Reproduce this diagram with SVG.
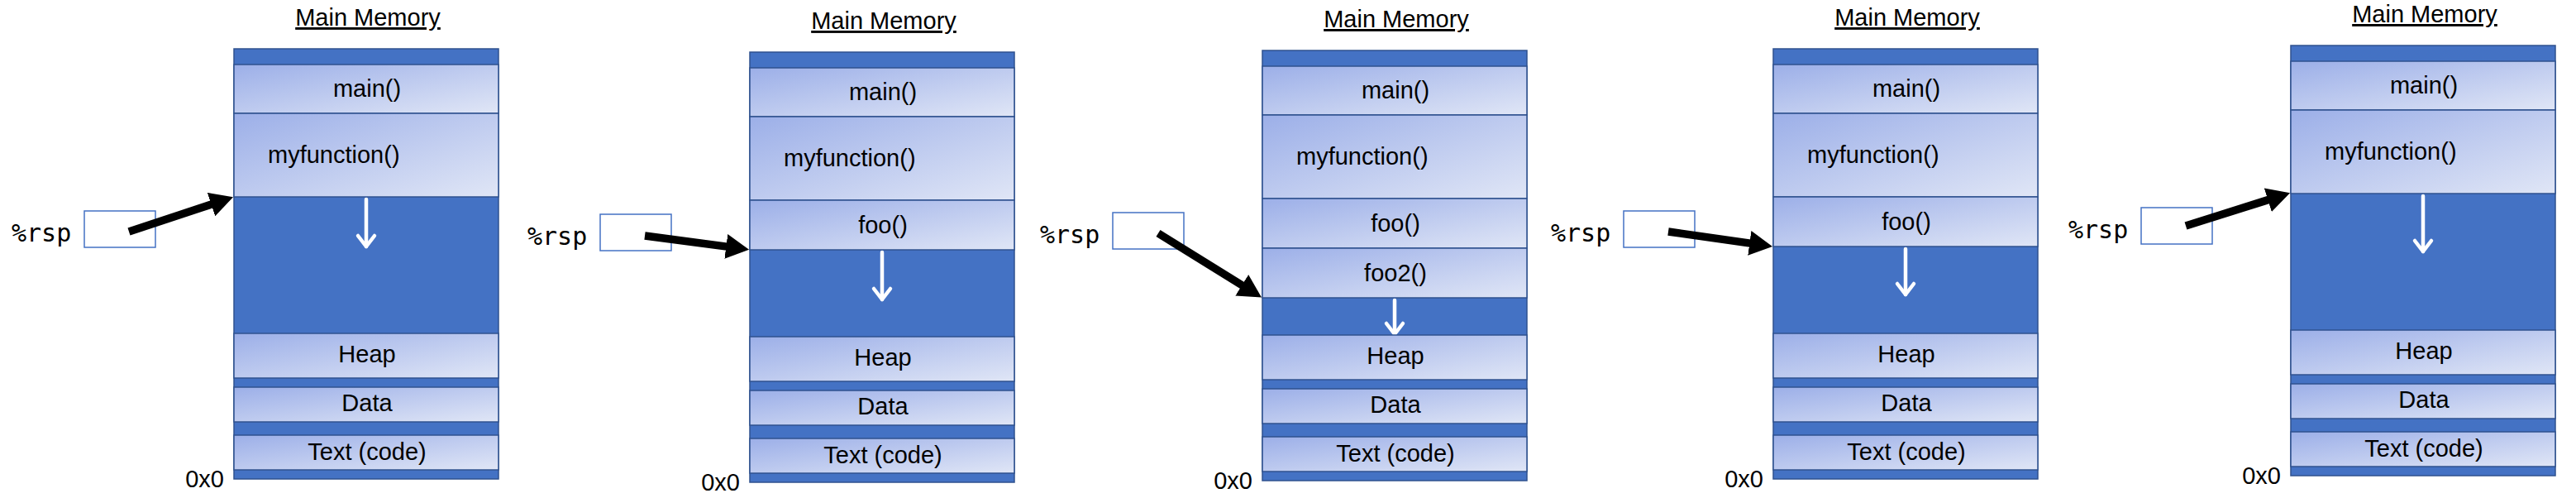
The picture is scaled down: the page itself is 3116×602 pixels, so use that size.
<svg xmlns="http://www.w3.org/2000/svg" width="3116" height="602" viewBox="0 0 3116 602">
<style>
.dk{fill:#4472C4;stroke:#2F528F;stroke-width:1.5}
.lt{fill:url(#g);stroke:#2F528F;stroke-width:1.5}
.t{font-family:"Liberation Sans",Arial,sans-serif;font-size:29px;fill:#000}
.c{text-anchor:middle}
.ti{font-family:"Liberation Sans",Arial,sans-serif;font-size:29px;fill:#000;text-anchor:middle;text-decoration:underline}
.reg{font-family:"DejaVu Sans Mono","Liberation Mono",monospace;font-size:30px;fill:#000}
.rb{fill:#fff;stroke:#4472C4;stroke-width:1.5}
.wa{fill:none;stroke:#fff;stroke-width:4.5;stroke-linecap:round;stroke-linejoin:round}
.ba{fill:none;stroke:#000;stroke-width:9.5}
</style>
<defs>
<linearGradient id="g" x1="0" y1="0" x2="1" y2="1">
<stop offset="0" stop-color="#9CAFE8"/>
<stop offset="1" stop-color="#E0E6F6"/>
</linearGradient>
<marker id="ah" markerUnits="userSpaceOnUse" viewBox="0 0 28 30" markerWidth="28" markerHeight="30" refX="1" refY="15" orient="auto">
<path d="M0,0 L28,15 L0,30 z" fill="#000"/>
</marker>
</defs>
<rect width="3116" height="602" fill="#fff"/>

<!-- Panel 1 -->
<g id="panel1" transform="translate(283,59)">
<text class="ti" x="162" y="-28">Main Memory</text>
<g id="p1-mem"><rect class="dk" x="0" y="0" width="320" height="520"/></g>
<g id="p1-main"><rect class="lt" x="0" y="19" width="320" height="59"/><text class="t c" x="161" y="58">main()</text></g>
<g id="p1-myfunction"><rect class="lt" x="0" y="78" width="320" height="101"/><text class="t" x="41" y="138">myfunction()</text></g>
<g id="p1-stack-free"><polyline class="wa" points="160,182 160,239"/><polyline class="wa" points="150,226 160,239 170,226"/></g>
<g id="p1-heap"><rect class="lt" x="0" y="344" width="320" height="54"/><text class="t c" x="161" y="379">Heap</text></g>
<g id="p1-data"><rect class="lt" x="0" y="409" width="320" height="42"/><text class="t c" x="161" y="438">Data</text></g>
<g id="p1-text"><rect class="lt" x="0" y="467" width="320" height="42"/><text class="t c" x="161" y="497">Text (code)</text></g>
<text class="t" x="-12" y="530" text-anchor="end">0x0</text>
<g id="p1-rsp"><text class="reg" x="-269" y="233">%rsp</text><rect class="rb" x="-181" y="196" width="86" height="44"/></g>
</g>

<!-- Panel 2 -->
<g id="panel2" transform="translate(907,63)">
<text class="ti" x="162" y="-28">Main Memory</text>
<g id="p2-mem"><rect class="dk" x="0" y="0" width="320" height="520"/></g>
<g id="p2-main"><rect class="lt" x="0" y="19" width="320" height="59"/><text class="t c" x="161" y="58">main()</text></g>
<g id="p2-myfunction"><rect class="lt" x="0" y="78" width="320" height="101"/><text class="t" x="41" y="138">myfunction()</text></g>
<g id="p2-foo"><rect class="lt" x="0" y="179" width="320" height="60"/><text class="t c" x="161" y="218.5">foo()</text></g>
<g id="p2-stack-free"><polyline class="wa" points="160,242 160,299"/><polyline class="wa" points="150,286 160,299 170,286"/></g>
<g id="p2-heap"><rect class="lt" x="0" y="344" width="320" height="54"/><text class="t c" x="161" y="379">Heap</text></g>
<g id="p2-data"><rect class="lt" x="0" y="409" width="320" height="42"/><text class="t c" x="161" y="438">Data</text></g>
<g id="p2-text"><rect class="lt" x="0" y="467" width="320" height="42"/><text class="t c" x="161" y="497">Text (code)</text></g>
<text class="t" x="-12" y="530" text-anchor="end">0x0</text>
<g id="p2-rsp"><text class="reg" x="-269" y="233">%rsp</text><rect class="rb" x="-181" y="196" width="86" height="44"/></g>
</g>

<!-- Panel 3 -->
<g id="panel3" transform="translate(1527,61)">
<text class="ti" x="162" y="-28">Main Memory</text>
<g id="p3-mem"><rect class="dk" x="0" y="0" width="320" height="520"/></g>
<g id="p3-main"><rect class="lt" x="0" y="19" width="320" height="59"/><text class="t c" x="161" y="58">main()</text></g>
<g id="p3-myfunction"><rect class="lt" x="0" y="78" width="320" height="101"/><text class="t" x="41" y="138">myfunction()</text></g>
<g id="p3-foo"><rect class="lt" x="0" y="179" width="320" height="60"/><text class="t c" x="161" y="218.5">foo()</text></g>
<g id="p3-foo2"><rect class="lt" x="0" y="239" width="320" height="60"/><text class="t c" x="161" y="278.5">foo2()</text></g>
<g id="p3-stack-free"><polyline class="wa" points="160,302 160,343"/><polyline class="wa" points="150,330 160,343 170,330"/></g>
<g id="p3-heap"><rect class="lt" x="0" y="344" width="320" height="54"/><text class="t c" x="161" y="379">Heap</text></g>
<g id="p3-data"><rect class="lt" x="0" y="409" width="320" height="42"/><text class="t c" x="161" y="438">Data</text></g>
<g id="p3-text"><rect class="lt" x="0" y="467" width="320" height="42"/><text class="t c" x="161" y="497">Text (code)</text></g>
<text class="t" x="-12" y="530" text-anchor="end">0x0</text>
<g id="p3-rsp"><text class="reg" x="-269" y="233">%rsp</text><rect class="rb" x="-181" y="196" width="86" height="44"/></g>
</g>

<!-- Panel 4 -->
<g id="panel4" transform="translate(2145,59)">
<text class="ti" x="162" y="-28">Main Memory</text>
<g id="p4-mem"><rect class="dk" x="0" y="0" width="320" height="520"/></g>
<g id="p4-main"><rect class="lt" x="0" y="19" width="320" height="59"/><text class="t c" x="161" y="58">main()</text></g>
<g id="p4-myfunction"><rect class="lt" x="0" y="78" width="320" height="101"/><text class="t" x="41" y="138">myfunction()</text></g>
<g id="p4-foo"><rect class="lt" x="0" y="179" width="320" height="60"/><text class="t c" x="161" y="218.5">foo()</text></g>
<g id="p4-stack-free"><polyline class="wa" points="160,242 160,297"/><polyline class="wa" points="150,284 160,297 170,284"/></g>
<g id="p4-heap"><rect class="lt" x="0" y="344" width="320" height="54"/><text class="t c" x="161" y="379">Heap</text></g>
<g id="p4-data"><rect class="lt" x="0" y="409" width="320" height="42"/><text class="t c" x="161" y="438">Data</text></g>
<g id="p4-text"><rect class="lt" x="0" y="467" width="320" height="42"/><text class="t c" x="161" y="497">Text (code)</text></g>
<text class="t" x="-12" y="530" text-anchor="end">0x0</text>
<g id="p4-rsp"><text class="reg" x="-269" y="233">%rsp</text><rect class="rb" x="-181" y="196" width="86" height="44"/></g>
</g>

<!-- Panel 5 -->
<g id="panel5" transform="translate(2771,55)">
<text class="ti" x="162" y="-28">Main Memory</text>
<g id="p5-mem"><rect class="dk" x="0" y="0" width="320" height="520"/></g>
<g id="p5-main"><rect class="lt" x="0" y="19" width="320" height="59"/><text class="t c" x="161" y="58">main()</text></g>
<g id="p5-myfunction"><rect class="lt" x="0" y="78" width="320" height="101"/><text class="t" x="41" y="138">myfunction()</text></g>
<g id="p5-stack-free"><polyline class="wa" points="160,182 160,249"/><polyline class="wa" points="150,236 160,249 170,236"/></g>
<g id="p5-heap"><rect class="lt" x="0" y="344" width="320" height="54"/><text class="t c" x="161" y="379">Heap</text></g>
<g id="p5-data"><rect class="lt" x="0" y="409" width="320" height="42"/><text class="t c" x="161" y="438">Data</text></g>
<g id="p5-text"><rect class="lt" x="0" y="467" width="320" height="42"/><text class="t c" x="161" y="497">Text (code)</text></g>
<text class="t" x="-12" y="530" text-anchor="end">0x0</text>
<g id="p5-rsp"><text class="reg" x="-269" y="233">%rsp</text><rect class="rb" x="-181" y="196" width="86" height="44"/></g>
</g>

<!-- Connectors -->
<g id="connectors">
<line class="ba" x1="156" y1="280" x2="256.4" y2="246.8" marker-end="url(#ah)"/>
<line class="ba" x1="780" y1="285" x2="879.3" y2="298.1" marker-end="url(#ah)"/>
<line class="ba" x1="1401" y1="282" x2="1503.1" y2="345.3" marker-end="url(#ah)"/>
<line class="ba" x1="2018" y1="280" x2="2117.3" y2="294.1" marker-end="url(#ah)"/>
<line class="ba" x1="2644" y1="273" x2="2744.3" y2="241.4" marker-end="url(#ah)"/>
</g>
</svg>
